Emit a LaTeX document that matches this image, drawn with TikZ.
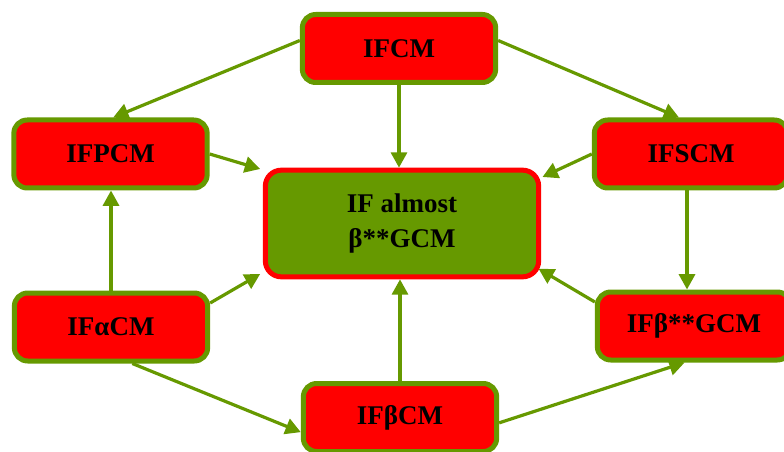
\documentclass[tikz,border=0pt]{standalone}
\usepackage{fontspec}
\setmainfont{Liberation Serif}
\usetikzlibrary{arrows.meta}
\definecolor{leaf}{HTML}{669900}
\definecolor{alarm}{HTML}{FF0000}

\begin{document}
\begin{tikzpicture}[x=0.75pt,y=-0.75pt,
  cmbox/.style={draw=leaf,fill=alarm,line width=3.75pt,rounded corners=10pt,
    minimum width=145pt,minimum height=51pt,inner sep=0pt,
    font=\fontsize{20.25}{26.25}\selectfont\bfseries},
  mainbox/.style={draw=alarm,fill=leaf,line width=3.75pt,rounded corners=12pt,
    minimum width=205pt,minimum height=80pt,inner sep=0pt,align=center,
    font=\fontsize{20.25}{26.25}\selectfont\bfseries},
  link/.style={draw=leaf,line width=2.4pt,-{Triangle[length=11.5pt,width=12pt]}}]
\useasboundingbox (0,0) rectangle (784,452);
\clip (0,0) rectangle (784,452);
\node[mainbox] (ctr) at (402,223.5) {IF almost\\β**GCM};
\node[cmbox] (ifcm) at (399,48.5) {IFCM};
\node[cmbox] (ifpcm) at (110.5,154) {IFPCM};
\node[cmbox] (ifscm) at (691,154) {IFSCM};
\node[cmbox] (ifacm) at (111,327) {IFαCM};
\node[cmbox] (ifbcm) at (400,417.5) {IFβCM};
\node[cmbox] (ifbg) at (694,326) {IFβ**GCM};
\draw[link] ([yshift=6pt]ifcm.west) -- ([xshift=2pt]ifpcm.north);
\draw[link] ([yshift=6pt]ifcm.east) -- ([xshift=-9pt]ifscm.north);
\draw[link] (ifcm.south) -- (ifcm.south |- ctr.north);
\draw[link] (ifpcm.east) -- ([xshift=-2pt,yshift=-1pt]ctr.north west);
\draw[link] (ifscm.west) -- ([xshift=1pt,yshift=-7pt]ctr.north east);
\draw[link] ([xshift=-3pt]ifscm.south) -- ([xshift=-3pt]ifscm.south |- ifbg.north);
\draw[link] (ifacm.north) -- (ifacm.north |- ifpcm.south);
\draw[link] ([yshift=18pt]ifacm.east) -- ([xshift=-2pt,yshift=4pt]ctr.south west);
\draw[link] ([xshift=16pt]ifacm.south) -- ([yshift=-11pt]ifbcm.west);
\draw[link] (ifbcm.north) -- (ifbcm.north |- ctr.south);
\draw[link] ([yshift=-4pt]ifbcm.east) -- ([xshift=-7pt]ifbg.south);
\draw[link] ([yshift=18pt]ifbg.west) -- ([xshift=-2pt,yshift=8pt]ctr.south east);
\end{tikzpicture}
\end{document}
